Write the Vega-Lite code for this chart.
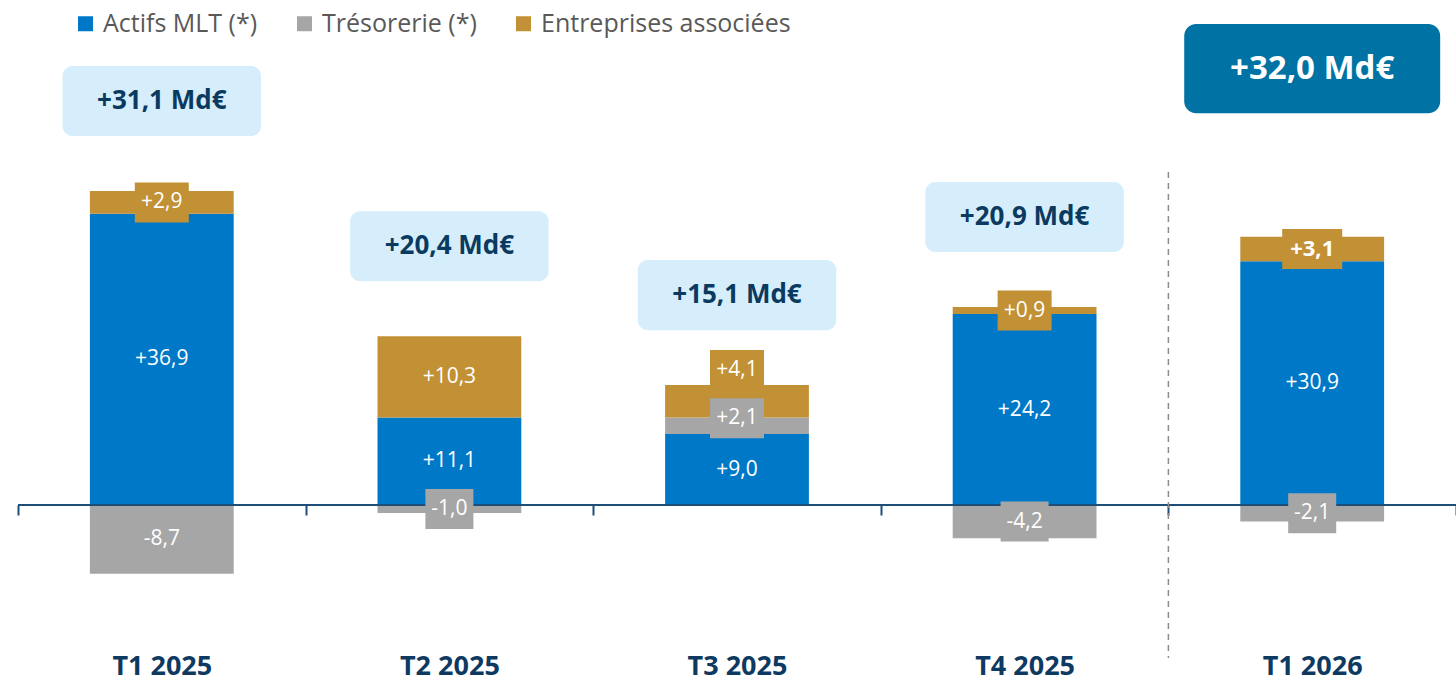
{
  "$schema": "https://vega.github.io/schema/vega-lite/v6.json",
  "width": 1438,
  "height": 682,
  "autosize": "none",
  "padding": {"left": 18, "top": 0, "right": 0, "bottom": 0},
  "background": "white",
  "config": {
    "view": {"stroke": null},
    "font": "Open Sans",
    "legend": {
      "orient": "none", "legendX": 55, "legendY": 11, "direction": "horizontal",
      "title": null, "padding": 0, "symbolType": "square", "symbolSize": 225,
      "symbolStrokeWidth": 0, "labelFontSize": 25, "labelColor": "#595959",
      "labelFont": "Open Sans", "columnPadding": 34, "labelOffset": 5, "labelLimit": 400
    }
  },
  "datasets": {
    "flows": [
      {"quarter": "T1 2025", "series": "Actifs MLT (*)", "order": 0, "value": 36.9},
      {"quarter": "T1 2025", "series": "Trésorerie (*)", "order": 1, "value": -8.7},
      {"quarter": "T1 2025", "series": "Entreprises associées", "order": 2, "value": 2.9},
      {"quarter": "T2 2025", "series": "Actifs MLT (*)", "order": 0, "value": 11.1},
      {"quarter": "T2 2025", "series": "Trésorerie (*)", "order": 1, "value": -1.0},
      {"quarter": "T2 2025", "series": "Entreprises associées", "order": 2, "value": 10.3},
      {"quarter": "T3 2025", "series": "Actifs MLT (*)", "order": 0, "value": 9.0},
      {"quarter": "T3 2025", "series": "Trésorerie (*)", "order": 1, "value": 2.1},
      {"quarter": "T3 2025", "series": "Entreprises associées", "order": 2, "value": 4.1},
      {"quarter": "T4 2025", "series": "Actifs MLT (*)", "order": 0, "value": 24.2},
      {"quarter": "T4 2025", "series": "Trésorerie (*)", "order": 1, "value": -4.2},
      {"quarter": "T4 2025", "series": "Entreprises associées", "order": 2, "value": 0.9},
      {"quarter": "T1 2026", "series": "Actifs MLT (*)", "order": 0, "value": 30.9},
      {"quarter": "T1 2026", "series": "Trésorerie (*)", "order": 1, "value": -2.1},
      {"quarter": "T1 2026", "series": "Entreprises associées", "order": 2, "value": 3.1}
    ],
    "totals": [
      {"quarter": "T1 2025", "total": 31.1},
      {"quarter": "T2 2025", "total": 20.4},
      {"quarter": "T3 2025", "total": 15.1},
      {"quarter": "T4 2025", "total": 20.9},
      {"quarter": "T1 2026", "total": 32.0}
    ]
  },
  "layer": [
    {
      "data": {"name": "flows"},
      "transform": [
        {"stack": "value", "groupby": ["quarter"], "sort": [{"field": "order"}], "as": ["v0", "v1"]}
      ],
      "mark": {"type": "bar", "width": {"band": 0.5}},
      "encoding": {
        "x": {
          "field": "quarter", "type": "nominal",
          "sort": ["T1 2025", "T2 2025", "T3 2025", "T4 2025", "T1 2026"],
          "scale": {"domain": ["T1 2025", "T2 2025", "T3 2025", "T4 2025", "T1 2026"], "paddingInner": 0, "paddingOuter": 0},
          "axis": {
            "title": null, "orient": "bottom", "offset": -177, "domain": false,
            "ticks": true, "tickBand": "extent", "tickSize": 10, "tickWidth": 2,
            "tickColor": "#1D4E78", "labelFont": "Open Sans", "labelFontWeight": "bold",
            "labelFontSize": 27, "labelColor": "#0E3A62", "labelAngle": 0,
            "labelPadding": 151, "labelBaseline": "middle", "grid": false
          }
        },
        "y": {
          "field": "v0", "type": "quantitative",
          "scale": {"domain": [-22.43, 64.0], "nice": false, "zero": false},
          "axis": null
        },
        "y2": {"field": "v1"},
        "color": {
          "field": "series", "type": "nominal",
          "sort": ["Actifs MLT (*)", "Trésorerie (*)", "Entreprises associées"],
          "scale": {
            "domain": ["Actifs MLT (*)", "Trésorerie (*)", "Entreprises associées"],
            "range": ["#0078C8", "#A6A6A6", "#C29135"]
          },
          "legend": {}
        }
      }
    },
    {
      "data": {"values": [{}]},
      "mark": {"type": "rule", "color": "#1D4E78", "strokeWidth": 2},
      "encoding": {"y": {"datum": 0, "type": "quantitative"}}
    },
    {
      "data": {"values": [{"quarter": "T1 2026"}]},
      "mark": {"type": "rule", "color": "#8C8C8C", "strokeWidth": 1.5, "strokeDash": [6, 5]},
      "encoding": {
        "x": {"field": "quarter", "type": "nominal", "bandPosition": 0, "sort": ["T1 2025", "T2 2025", "T3 2025", "T4 2025", "T1 2026"]},
        "y": {"datum": 42.2, "type": "quantitative"},
        "y2": {"datum": -19.4}
      }
    },
    {
      "data": {"name": "flows"},
      "transform": [
        {"stack": "value", "groupby": ["quarter"], "sort": [{"field": "order"}], "as": ["v0", "v1"]},
        {"calculate": "(datum.v0 + datum.v1) / 2 + (datum.quarter === 'T3 2025' ? (datum.order === 2 ? 3.95 : (datum.order === 1 ? 0.95 : 0)) : 0)", "as": "ly"}
      ],
      "mark": {"type": "point", "filled": true, "opacity": 1, "strokeWidth": 0},
      "encoding": {
        "x": {"field": "quarter", "type": "nominal", "sort": ["T1 2025", "T2 2025", "T3 2025", "T4 2025", "T1 2026"]},
        "y": {"field": "ly", "type": "quantitative"},
        "shape": {
          "condition": [
            {"test": "datum.quarter === 'T1 2026' && datum.order === 2", "value": "M-1.5,-1H1.5V1H-1.5Z"},
            {"test": "datum.value < 0", "value": "M-1.2,-1H1.2V1H-1.2Z"}
          ],
          "value": "M-1.35,-1H1.35V1H-1.35Z"
        },
        "size": {"value": 1600},
        "color": {"field": "series", "type": "nominal", "legend": null}
      }
    },
    {
      "data": {"name": "flows"},
      "transform": [
        {"stack": "value", "groupby": ["quarter"], "sort": [{"field": "order"}], "as": ["v0", "v1"]},
        {"calculate": "(datum.v0 + datum.v1) / 2 + (datum.quarter === 'T3 2025' ? (datum.order === 2 ? 3.95 : (datum.order === 1 ? 0.95 : 0)) : 0)", "as": "ly"},
        {"calculate": "(datum.value < 0 ? '-' : '+') + replace(format(abs(datum.value), '.1f'), '.', ',')", "as": "lbl"},
        {"filter": "!(datum.quarter === 'T1 2026' && datum.order === 2)"}
      ],
      "mark": {"type": "text", "color": "white", "fontSize": 21, "font": "Open Sans", "align": "center", "baseline": "middle"},
      "encoding": {
        "x": {"field": "quarter", "type": "nominal", "sort": ["T1 2025", "T2 2025", "T3 2025", "T4 2025", "T1 2026"]},
        "y": {"field": "ly", "type": "quantitative"},
        "text": {"field": "lbl"}
      }
    },
    {
      "data": {"name": "flows"},
      "transform": [
        {"stack": "value", "groupby": ["quarter"], "sort": [{"field": "order"}], "as": ["v0", "v1"]},
        {"calculate": "(datum.v0 + datum.v1) / 2", "as": "ly"},
        {"calculate": "(datum.value < 0 ? '-' : '+') + replace(format(abs(datum.value), '.1f'), '.', ',')", "as": "lbl"},
        {"filter": "datum.quarter === 'T1 2026' && datum.order === 2"}
      ],
      "mark": {"type": "text", "color": "white", "fontSize": 22, "fontWeight": "bold", "font": "Open Sans", "align": "center", "baseline": "middle"},
      "encoding": {
        "x": {"field": "quarter", "type": "nominal", "sort": ["T1 2025", "T2 2025", "T3 2025", "T4 2025", "T1 2026"]},
        "y": {"field": "ly", "type": "quantitative"},
        "text": {"field": "lbl"}
      }
    },
    {
      "data": {"name": "flows"},
      "transform": [
        {"filter": "datum.value > 0"},
        {"aggregate": [{"op": "sum", "field": "value", "as": "top"}], "groupby": ["quarter"]},
        {"lookup": "quarter", "from": {"data": {"name": "totals"}, "key": "quarter", "fields": ["total"]}},
        {"filter": "datum.quarter !== 'T1 2026'"},
        {"calculate": "datum.top + 11.4", "as": "cy"},
        {"calculate": "datum.cy - 4.44", "as": "cy0"},
        {"calculate": "datum.cy + 4.44", "as": "cy1"},
        {"calculate": "'+' + replace(format(datum.total, '.1f'), '.', ',') + ' Md€'", "as": "ctext"}
      ],
      "layer": [
        {
          "mark": {"type": "bar", "width": {"band": 0.69}, "cornerRadius": 10, "color": "#D6EEFB"},
          "encoding": {
            "x": {"field": "quarter", "type": "nominal", "sort": ["T1 2025", "T2 2025", "T3 2025", "T4 2025", "T1 2026"]},
            "y": {"field": "cy0", "type": "quantitative"},
            "y2": {"field": "cy1"}
          }
        },
        {
          "mark": {"type": "text", "color": "#0B3A60", "fontSize": 26, "fontWeight": "bold", "font": "Open Sans", "align": "center", "baseline": "middle"},
          "encoding": {
            "x": {"field": "quarter", "type": "nominal", "sort": ["T1 2025", "T2 2025", "T3 2025", "T4 2025", "T1 2026"]},
            "y": {"field": "cy", "type": "quantitative"},
            "text": {"field": "ctext"}
          }
        }
      ]
    },
    {
      "data": {"name": "flows"},
      "transform": [
        {"filter": "datum.value > 0"},
        {"aggregate": [{"op": "sum", "field": "value", "as": "top"}], "groupby": ["quarter"]},
        {"lookup": "quarter", "from": {"data": {"name": "totals"}, "key": "quarter", "fields": ["total"]}},
        {"filter": "datum.quarter === 'T1 2026'"},
        {"calculate": "datum.top + 21.3", "as": "cy"},
        {"calculate": "datum.cy - 5.65", "as": "cy0"},
        {"calculate": "datum.cy + 5.65", "as": "cy1"},
        {"calculate": "'+' + replace(format(datum.total, '.1f'), '.', ',') + ' Md€'", "as": "ctext"}
      ],
      "layer": [
        {
          "mark": {"type": "bar", "width": {"band": 0.89}, "cornerRadius": 12, "color": "#0072A3"},
          "encoding": {
            "x": {"field": "quarter", "type": "nominal", "sort": ["T1 2025", "T2 2025", "T3 2025", "T4 2025", "T1 2026"]},
            "y": {"field": "cy0", "type": "quantitative"},
            "y2": {"field": "cy1"}
          }
        },
        {
          "mark": {"type": "text", "color": "white", "fontSize": 33, "fontWeight": "bold", "font": "Open Sans", "align": "center", "baseline": "middle"},
          "encoding": {
            "x": {"field": "quarter", "type": "nominal", "sort": ["T1 2025", "T2 2025", "T3 2025", "T4 2025", "T1 2026"]},
            "y": {"field": "cy", "type": "quantitative"},
            "text": {"field": "ctext"}
          }
        }
      ]
    }
  ]
}
